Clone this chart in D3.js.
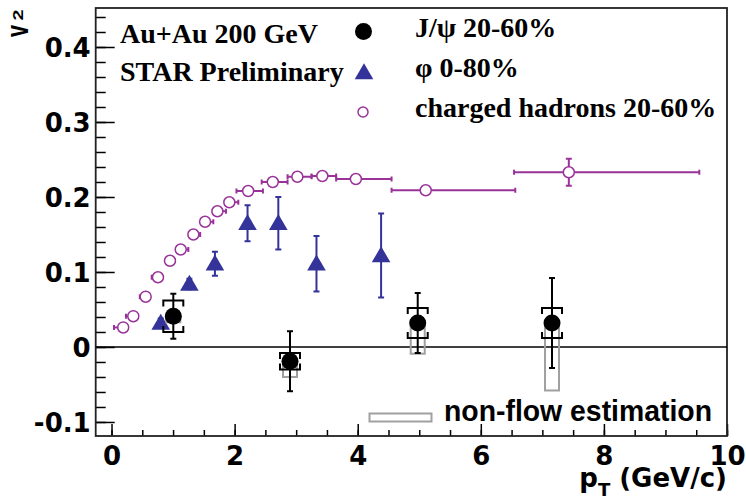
<!DOCTYPE html>
<html>
<head>
<meta charset="utf-8">
<script src="https://cdn.jsdelivr.net/npm/d3@7"></script>
<style>
  body { margin: 0; background: #fff; }
  svg { display: block; }
  .tick text { font-family: "DejaVu Sans", sans-serif; font-weight: bold; font-size: 26px; fill: #000; }
</style>
</head>
<body>
<div id="container"></div>
<script>
// charged hadrons 20-60%
const hadPt   = [0.19, 0.354, 0.555, 0.755, 0.95, 1.124, 1.33, 1.52, 1.72, 1.914, 2.22, 2.62, 3.02, 3.425, 3.97, 5.105, 7.43];
const hadV2   = [0.026, 0.041, 0.067, 0.093, 0.115, 0.130, 0.150, 0.167, 0.181, 0.193, 0.208, 0.220, 0.227, 0.228, 0.224, 0.209, 0.233];
const hadPtLo = [0.04, 0.235, 0.46, 0.653, 0.88, 1.07, 1.28, 1.47, 1.67, 1.87, 2.03, 2.44, 2.86, 3.25, 3.65, 4.55, 6.54];
const hadPtHi = [0.25, 0.40, 0.60, 0.80, 1.03, 1.248, 1.44, 1.654, 1.86, 2.06, 2.46, 2.86, 3.25, 3.65, 4.55, 6.56, 9.55];
const hadErr  = [0.002, 0.002, 0.002, 0.002, 0.002, 0.002, 0.002, 0.002, 0.002, 0.002, 0.002, 0.002, 0.002, 0.002, 0.003, 0.004, 0.018];

// phi 0-80%
const phiPt  = [0.80, 1.265, 1.68, 2.21, 2.71, 3.33, 4.38];
const phiV2  = [0.032, 0.084, 0.111, 0.165, 0.165, 0.111, 0.122];
const phiErr = [0.006, 0.007, 0.016, 0.024, 0.035, 0.037, 0.056];

// J/psi 20-60%
const jpsiPt      = [1.004, 2.90, 4.975, 7.157];
const jpsiV2      = [0.041, -0.019, 0.032, 0.032];
const jpsiStat    = [0.030, 0.040, 0.040, 0.060];
const jpsiSys     = [0.021, 0.011, 0.020, 0.020];
const jpsiNonFlow = [0.008, 0.021, 0.041, 0.090];

const xTicks = [0, 2, 4, 6, 8, 10];
const yTicks = [-0.1, 0, 0.1, 0.2, 0.3, 0.4];

const legendLeft = ["Au+Au 200 GeV", "STAR Preliminary"];
const legendRight = ["J/\u03c8 20-60%", "\u03c6 0-80%", "charged hadrons 20-60%"];

const width = 746, height = 500;
const purple = "#993399", blue = "#333399", gray = "#a0a0a0";

const svg = d3.select("#container").append("svg")
    .attr("width", width)
    .attr("height", height);

const x = d3.scaleLinear().domain([-0.257, 10.0]).range([95.7, 727]);
const y = d3.scaleLinear().domain([-0.1187, 0.452]).range([436, 8]);

// axes (ticks inside, ROOT style)
const xMinor = d3.range(0, 21).map(i => i * 0.5);
const yMinor = d3.range(-5, 23).map(i => i * 0.02);

svg.append("g")
    .attr("transform", `translate(0,${y.range()[0]})`)
    .call(d3.axisBottom(x).tickValues(xMinor).tickSize(-6).tickFormat(""))
    .call(g => g.select(".domain").remove());
svg.append("g")
    .attr("transform", `translate(0,${y.range()[0]})`)
    .call(d3.axisBottom(x).tickValues(xTicks).tickSize(-12).tickPadding(10).tickFormat(d3.format("d")))
    .call(g => g.select(".domain").remove())
    .call(g => g.selectAll(".tick text").attr("dy", null).attr("y", 29));

svg.append("g")
    .attr("transform", `translate(${x.range()[0]},0)`)
    .call(d3.axisLeft(y).tickValues(yMinor).tickSize(-10).tickFormat(""))
    .call(g => g.select(".domain").remove());
svg.append("g")
    .attr("transform", `translate(${x.range()[0]},0)`)
    .call(d3.axisLeft(y).tickValues(yTicks).tickSize(-19).tickPadding(5)
        .tickFormat(d => d === 0 ? "0" : d.toFixed(1)))
    .call(g => g.select(".domain").remove())
    .call(g => g.selectAll(".tick text").attr("dy", "0.36em"));

svg.selectAll(".tick line").attr("stroke", "#000").attr("stroke-width", 1.5);

// frame
svg.append("rect")
    .attr("x", x.range()[0]).attr("y", y.range()[1])
    .attr("width", x.range()[1] - x.range()[0])
    .attr("height", y.range()[0] - y.range()[1])
    .attr("fill", "none").attr("stroke", "#222").attr("stroke-width", 1.8);

// zero line
svg.append("line")
    .attr("x1", x.range()[0]).attr("x2", x.range()[1])
    .attr("y1", y(0)).attr("y2", y(0))
    .attr("stroke", "#000").attr("stroke-width", 1.3);

// axis titles
const yTitle = svg.append("g").attr("transform", "translate(28.3,37) rotate(-90)")
    .style("font-family", "'Liberation Sans', Arial, sans-serif").style("font-weight", "bold");
yTitle.append("text").attr("x", 0).attr("y", 0).attr("font-size", 31)
    .attr("textLength", 12).attr("lengthAdjust", "spacingAndGlyphs").text("v");
yTitle.append("text").attr("x", 16.5).attr("y", -5).attr("font-size", 15)
    .attr("textLength", 11).attr("lengthAdjust", "spacingAndGlyphs").text("2");

const xTitle = svg.append("text")
    .attr("x", 727).attr("y", 487)
    .attr("text-anchor", "end")
    .style("font-family", "'DejaVu Sans', sans-serif").style("font-weight", "bold")
    .attr("font-size", 26);
xTitle.append("tspan").text("p");
xTitle.append("tspan").attr("font-size", 18).attr("dy", 9).text("T");
xTitle.append("tspan").attr("dy", -9).text(" (GeV/c)");

// charged hadrons
const had = hadPt.map((p, i) => ({p, v: hadV2[i], lo: hadPtLo[i], hi: hadPtHi[i], e: hadErr[i]}));
const hg = svg.append("g").attr("stroke", purple).attr("stroke-width", 2);
hg.selectAll("line.h").data(had).join("line")
    .attr("x1", d => x(d.lo)).attr("x2", d => x(d.hi))
    .attr("y1", d => y(d.v)).attr("y2", d => y(d.v));
hg.selectAll("line.cl").data(had).join("line")
    .attr("x1", d => x(d.lo)).attr("x2", d => x(d.lo))
    .attr("y1", d => y(d.v) - 2.5).attr("y2", d => y(d.v) + 2.5);
hg.selectAll("line.ch").data(had).join("line")
    .attr("x1", d => x(d.hi)).attr("x2", d => x(d.hi))
    .attr("y1", d => y(d.v) - 2.5).attr("y2", d => y(d.v) + 2.5);
hg.selectAll("line.v").data(had).join("line")
    .attr("x1", d => x(d.p)).attr("x2", d => x(d.p))
    .attr("y1", d => y(d.v + d.e)).attr("y2", d => y(d.v - d.e));
hg.selectAll("line.vt").data(had.filter(d => d.e > 0.01)).join("line")
    .attr("x1", d => x(d.p) - 3).attr("x2", d => x(d.p) + 3)
    .attr("y1", d => y(d.v + d.e)).attr("y2", d => y(d.v + d.e));
hg.selectAll("line.vb").data(had.filter(d => d.e > 0.01)).join("line")
    .attr("x1", d => x(d.p) - 3).attr("x2", d => x(d.p) + 3)
    .attr("y1", d => y(d.v - d.e)).attr("y2", d => y(d.v - d.e));
hg.selectAll("circle").data(had).join("circle")
    .attr("cx", d => x(d.p)).attr("cy", d => y(d.v)).attr("r", 5.5)
    .attr("fill", "#fff").attr("stroke-width", 1.5);

// phi
const phi = phiPt.map((p, i) => ({p, v: phiV2[i], e: phiErr[i]}));
const pg = svg.append("g").attr("stroke", blue).attr("stroke-width", 2);
pg.selectAll("line.v").data(phi).join("line")
    .attr("x1", d => x(d.p)).attr("x2", d => x(d.p))
    .attr("y1", d => y(d.v + d.e)).attr("y2", d => y(d.v - d.e));
pg.selectAll("line.t").data(phi).join("line")
    .attr("x1", d => x(d.p) - 3).attr("x2", d => x(d.p) + 3)
    .attr("y1", d => y(d.v + d.e)).attr("y2", d => y(d.v + d.e));
pg.selectAll("line.b").data(phi).join("line")
    .attr("x1", d => x(d.p) - 3).attr("x2", d => x(d.p) + 3)
    .attr("y1", d => y(d.v - d.e)).attr("y2", d => y(d.v - d.e));
const tri = d3.symbol().type(d3.symbolTriangle).size(150);
pg.selectAll("path").data(phi).join("path")
    .attr("d", tri)
    .attr("transform", d => `translate(${x(d.p)},${y(d.v) + 1.5})`)
    .attr("fill", blue).attr("stroke", "none");

// J/psi
const jpsi = jpsiPt.map((p, i) => ({p, v: jpsiV2[i], e: jpsiStat[i], s: jpsiSys[i], nf: jpsiNonFlow[i]}));
svg.append("g").selectAll("rect").data(jpsi).join("rect")
    .attr("x", d => x(d.p) - 7).attr("width", 14)
    .attr("y", d => y(d.v)).attr("height", d => y(d.v - d.nf) - y(d.v))
    .attr("fill", "none").attr("stroke", gray).attr("stroke-width", 2);

const jg = svg.append("g").attr("stroke", "#000").attr("stroke-width", 2).attr("fill", "none");
jg.selectAll("path.br").data(jpsi).join("path")
    .attr("d", d => {
        const cx = x(d.p), yt = y(d.v + d.s), yb = y(d.v - d.s);
        return `M${cx - 10},${yt + 6}V${yt}H${cx + 10}V${yt + 6}` +
               `M${cx - 10},${yb - 6}V${yb}H${cx + 10}V${yb - 6}`;
    });
jg.selectAll("line.v").data(jpsi).join("line")
    .attr("x1", d => x(d.p)).attr("x2", d => x(d.p))
    .attr("y1", d => y(d.v + d.e)).attr("y2", d => y(d.v - d.e));
jg.selectAll("line.t").data(jpsi).join("line")
    .attr("x1", d => x(d.p) - 3).attr("x2", d => x(d.p) + 3)
    .attr("y1", d => y(d.v + d.e)).attr("y2", d => y(d.v + d.e));
jg.selectAll("line.b").data(jpsi).join("line")
    .attr("x1", d => x(d.p) - 3).attr("x2", d => x(d.p) + 3)
    .attr("y1", d => y(d.v - d.e)).attr("y2", d => y(d.v - d.e));
jg.selectAll("circle").data(jpsi).join("circle")
    .attr("cx", d => x(d.p)).attr("cy", d => y(d.v)).attr("r", 8.5)
    .attr("fill", "#000").attr("stroke", "none");

// legend
const serif = "'Liberation Serif', 'Times New Roman', serif";
svg.append("g").selectAll("text").data(legendLeft).join("text")
    .attr("x", 120).attr("y", (d, i) => [43, 81][i])
    .style("font-family", serif).style("font-weight", "bold").attr("font-size", 28)
    .text(d => d);
svg.append("g").selectAll("text").data(legendRight).join("text")
    .attr("x", 415).attr("y", (d, i) => 37 + i * 40)
    .style("font-family", serif).style("font-weight", "bold").attr("font-size", 28)
    .text(d => d);

svg.append("circle").attr("cx", 363.5).attr("cy", 31.5).attr("r", 8.5).attr("fill", "#000");
svg.append("path").attr("d", tri).attr("transform", "translate(364,74)").attr("fill", blue);
svg.append("circle").attr("cx", 363).attr("cy", 112).attr("r", 5)
    .attr("fill", "#fff").attr("stroke", purple).attr("stroke-width", 1.5);

svg.append("rect").attr("x", 369.5).attr("y", 413.5).attr("width", 62).attr("height", 8)
    .attr("fill", "none").attr("stroke", gray).attr("stroke-width", 2);
svg.append("text").attr("x", 444).attr("y", 421)
    .style("font-family", "'Liberation Sans Narrow', 'Liberation Sans', Arial, sans-serif")
    .style("font-weight", "bold").attr("font-size", 30)
    .attr("textLength", 268).attr("lengthAdjust", "spacingAndGlyphs")
    .text("non-flow estimation");
</script>
</body>
</html>
